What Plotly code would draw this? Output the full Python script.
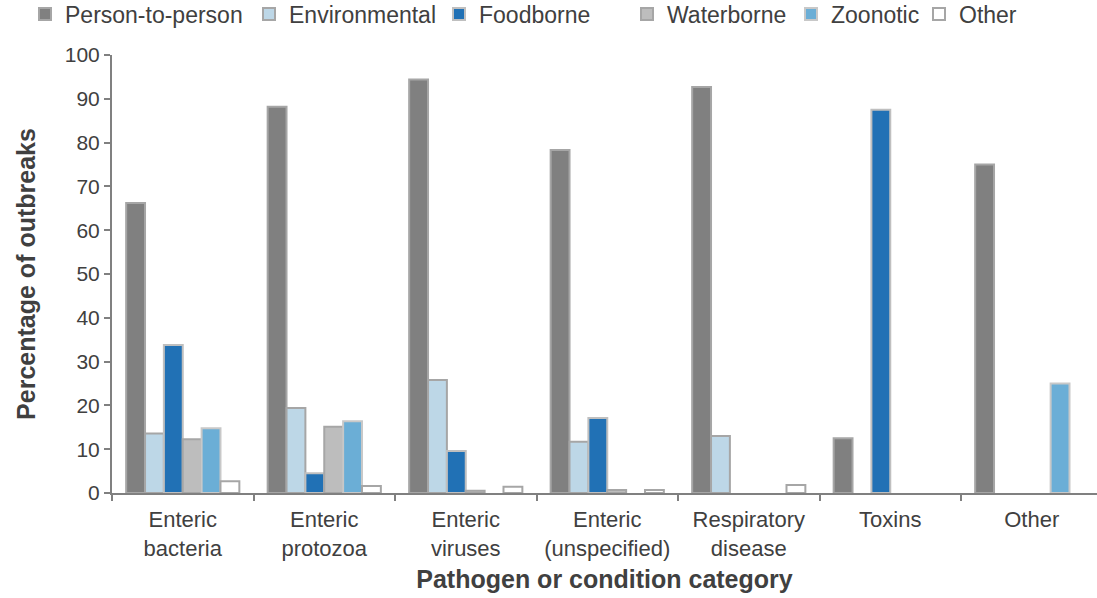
import plotly.graph_objects as go

# Pathogen / condition categories along the x axis
categories = [
    "Enteric<br>bacteria",
    "Enteric<br>protozoa",
    "Enteric<br>viruses",
    "Enteric<br>(unspecified)",
    "Respiratory<br>disease",
    "Toxins",
    "Other",
]

# Percentage of outbreaks by transmission mode (None = no outbreaks recorded)
person_to_person = [66.2, 88.2, 94.4, 78.3, 92.7, 12.5, 75.0]
environmental    = [13.6, 19.4, 25.8, 11.7, 13.0, None, None]
foodborne        = [33.8, 4.5, 9.6, 17.1, None, 87.5, None]
waterborne       = [12.3, 15.1, 0.5, 0.7, None, None, None]
zoonotic         = [14.8, 16.4, None, None, None, None, 25.0]
other            = [2.7, 1.6, 1.4, 0.7, 1.8, None, None]

series = [
    ("Person-to-person", person_to_person, "#808080", "#A6A6A6"),
    ("Environmental", environmental, "#BDD7E7", "#A6A6A6"),
    ("Foodborne", foodborne, "#2171B5", "#BFBFBF"),
    ("Waterborne", waterborne, "#BDBDBD", "#A6A6A6"),
    ("Zoonotic", zoonotic, "#6BAED6", "#C8C8C8"),
    ("Other", other, "#FFFFFF", "#A6A6A6"),
]

# Left edge (in pixels) of each legend entry along the top row
legend_left_px = [25, 249, 439, 627, 791, 919]

FONT = "Liberation Sans, Arial, sans-serif"
TEXT = "#404040"
AXIS = "#808080"

W, H = 1097, 598
ML, MR, MT, MB = 112, 0, 55, 105

fig = go.Figure()
legend_layouts = {}
for i, (name, values, fill, edge) in enumerate(series):
    key = "legend" if i == 0 else f"legend{i + 1}"
    fig.add_trace(go.Bar(
        name=name,
        x=categories,
        y=values,
        legend=key,
        showlegend=True,
        marker=dict(color=fill, line=dict(color=edge, width=2)),
    ))
    legend_layouts[key] = dict(
        orientation="h",
        xref="container",
        yref="container",
        x=legend_left_px[i] / W,
        xanchor="left",
        y=1 - 14 / H,
        yanchor="middle",
        font=dict(family=FONT, size=23, color=TEXT),
        bgcolor="rgba(0,0,0,0)",
        borderwidth=0,
    )

fig.update_layout(
    width=W,
    height=H,
    showlegend=True,
    margin=dict(l=ML, r=MR, t=MT, b=MB, autoexpand=False),
    paper_bgcolor="white",
    plot_bgcolor="white",
    barmode="group",
    bargap=0.2,
    bargroupgap=0,
    font=dict(family=FONT, size=21, color=TEXT),
    xaxis=dict(
        range=[-0.5, 6.461],
        showline=True,
        linecolor=AXIS,
        linewidth=2,
        ticks="outside",
        tickson="boundaries",
        ticklen=6,
        tickwidth=2,
        tickcolor=AXIS,
        ticklabelstandoff=6,
        tickfont=dict(family=FONT, size=22, color=TEXT),
        showgrid=False,
        title=dict(
            text="<b>Pathogen or condition category</b>",
            font=dict(family=FONT, size=25, color=TEXT),
            standoff=10,
        ),
    ),
    yaxis=dict(
        range=[0, 100],
        tickvals=list(range(0, 101, 10)),
        showline=True,
        linecolor=AXIS,
        linewidth=2,
        ticks="outside",
        ticklen=6,
        tickwidth=2,
        tickcolor=AXIS,
        tickfont=dict(family=FONT, size=21, color=TEXT),
        showgrid=False,
        zeroline=False,
        title=dict(
            text="<b>Percentage of outbreaks</b>",
            font=dict(family=FONT, size=25, color=TEXT),
            standoff=22,
        ),
    ),
    **legend_layouts,
)

fig.write_html("out.html")
